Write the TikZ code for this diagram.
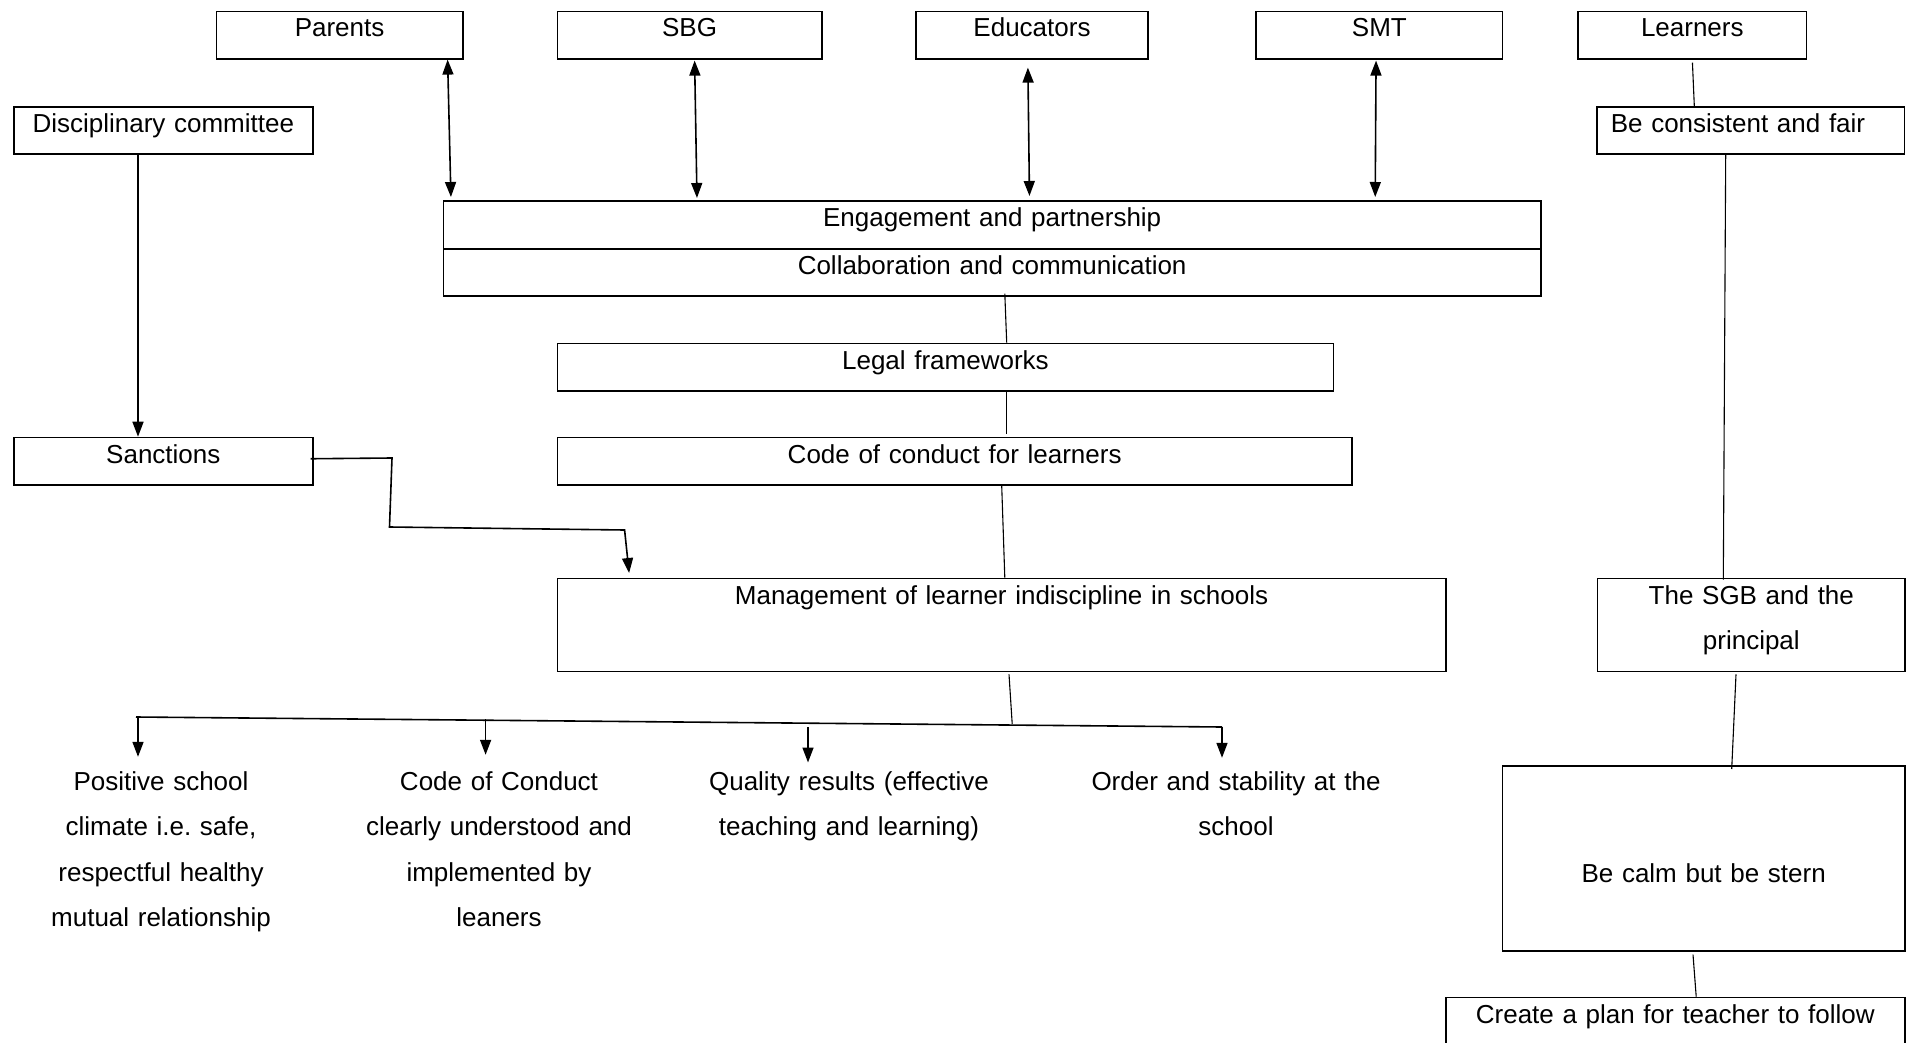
\documentclass[tikz,border=0pt]{standalone}
\usepackage{fontspec}
\setmainfont{Liberation Sans}
\usepackage{tikz}
\usetikzlibrary{arrows.meta}

\tikzset{
    box/.style={draw, line width=1.6pt, inner sep=0pt, align=center, text height=25.5pt},
    outcome/.style={inner sep=0pt, align=center, anchor=base, text height=19pt, text width=#1},
    link/.style={line width=1.1pt},
    arr/.style={line width=1.6pt, -{Triangle[length=15pt,width=11pt]}},
    biarr/.style={line width=1.6pt, {Triangle[length=15pt,width=11pt]}-{Triangle[length=15pt,width=11pt]}},
}

\begin{document}
\begin{tikzpicture}[x=1pt, y=-1pt, font=\fontsize{26pt}{45.5pt}\selectfont]
        \useasboundingbox (0,0) rectangle (1908,1043);

        \node[box, anchor=north west, text width=246.5pt, text depth=21.8pt] (parents) at (215.5,10.7) {Parents};
        \node[box, anchor=north west, text width=264.4pt, text depth=21.8pt] (sbg) at (556.6,10.7) {SBG};
        \node[box, anchor=north west, text width=232.4pt, text depth=21.8pt] (educators) at (915,10.7) {Educators};
        \node[box, anchor=north west, text width=246.3pt, text depth=21.8pt] (smt) at (1255.4,10.7) {SMT};
        \node[box, anchor=north west, text width=228.4pt, text depth=21.8pt] (learners) at (1577.3,10.7) {Learners};

        \node[box, anchor=north west, text width=299pt, text depth=21.5pt] (discipline) at (13,106) {Disciplinary committee};
        \node[box, anchor=north west, align=left, text width=307.7pt, text depth=21.5pt] (consistent) at (1596,106) {\hspace*{14pt}Be consistent and fair};

        \node[box, anchor=north west, text width=1097.3pt, text depth=22.5pt] (engage) at (442.7,200) {Engagement and partnership};
        \node[box, anchor=north west, text width=1097.3pt, text depth=21.5pt] (collab) at (442.7,248) {Collaboration and communication};
        \node[box, anchor=north west, text width=776pt, text depth=21.8pt] (legal) at (556.6,342.7) {Legal frameworks};
        \node[box, anchor=north west, text width=299pt, text depth=21.8pt] (sanctions) at (13,436.7) {Sanctions};
        \node[box, anchor=north west, text width=794.5pt, text depth=21.8pt] (code) at (556.6,436.7) {Code of conduct for learners};
        \node[box, anchor=north west, text width=888.4pt, text depth=67.5pt] (manage) at (556.6,577.7) {Management of learner indiscipline in schools};
        \node[box, anchor=north west, text width=307.6pt, text depth=67.5pt] (sgb2) at (1596.7,577.7) {The SGB and the\\principal};
        \node[box, anchor=north west, text width=402.3pt, text height=116.7pt, text depth=68.3pt] (calm) at (1501.7,765) {Be calm but be stern};
        \node[box, anchor=north west, text width=459pt, text depth=21.8pt] (plan) at (1445,996.7) {Create a plan for teacher to follow};

        \node[outcome=260pt] (positive) at (161,790) {Positive school\\climate i.e.\ safe,\\respectful healthy\\mutual relationship};
        \node[outcome=300pt] (conduct) at (499,790) {Code of Conduct\\clearly understood and\\implemented by\\leaners};
        \node[outcome=320pt] (quality) at (849,790) {Quality results (effective\\teaching and learning)};
        \node[outcome=320pt] (order) at (1236,790) {Order and stability at the\\school};

        \draw[biarr, shorten >=3pt] ([xshift=-16pt]parents.south east) -- ([xshift=8.3pt]engage.north west);
        \draw[biarr, shorten <=1pt, shorten >=2pt] ([xshift=5pt]sbg.south) -- ([xshift=254.3pt]engage.north west);
        \draw[biarr, shorten <=8pt, shorten >=4pt] ([xshift=-4.2pt]educators.south) -- ([xshift=586.8pt]engage.north west);
        \draw[biarr, shorten <=1pt, shorten >=3pt] ([xshift=-3.3pt]smt.south) -- ([xshift=932.5pt]engage.north west);

        \draw[link, shorten <=3pt] (learners.south) -- ([xshift=98.3pt]consistent.north west);
        \draw[link] ([xshift=129.7pt]consistent.south west) -- ([xshift=126.6pt, yshift=-2pt]sgb2.north west);
        \draw[arr] ([xshift=125pt]discipline.south west) -- ([xshift=125pt]sanctions.north west);

        \draw[link] ([xshift=562.1pt, yshift=3pt]collab.south west) -- ([xshift=450.1pt]legal.north west);
        \draw[link, shorten >=2.7pt] ([xshift=450.1pt]legal.south west) -- ([xshift=450.1pt]code.north west);
        \draw[link] ([xshift=445.1pt]code.south west) -- ([xshift=448.2pt]manage.north west);

        \coordinate (sbend1) at (392,458);
        \coordinate (sbend2) at (389.5,527);
        \coordinate (sbend3) at (624.6,530);
        \draw[arr, shorten >=4.7pt] ([xshift=-3pt, yshift=2.4pt]sanctions.east) -- (sbend1) -- (sbend2) -- (sbend3) -- ([xshift=73pt]manage.north west);

        \coordinate (bleft) at (136,717);
        \coordinate (bright) at (1222,727);
        \coordinate (bjoin) at (1012.2,724);
        \coordinate (b1) at (138,717);
        \coordinate (b2) at (485.6,719);
        \coordinate (b3) at (808,727);
        \coordinate (b4) at (1222,727);
        \draw[line width=1.6pt] (bleft) -- (bright);
        \draw[link] ([xshift=452.4pt, yshift=-2pt]manage.south west) -- (bjoin);
        \draw[arr, shorten >=14pt] (b1) -- (b1 |- positive.north);
        \draw[arr, shorten >=16pt] (b2) -- (b2 |- conduct.north);
        \draw[arr, shorten >=8.3pt] (b3) -- (b3 |- quality.north);
        \draw[arr, shorten >=13pt] (b4) -- (b4 |- order.north);

        \draw[link] ([xshift=139.3pt, yshift=-2pt]sgb2.south west) -- ([xshift=230pt, yshift=-4pt]calm.north west);
        \draw[link] ([xshift=191.3pt, yshift=-3pt]calm.south west) -- ([xshift=251.2pt]plan.north west);
\end{tikzpicture}
\end{document}
